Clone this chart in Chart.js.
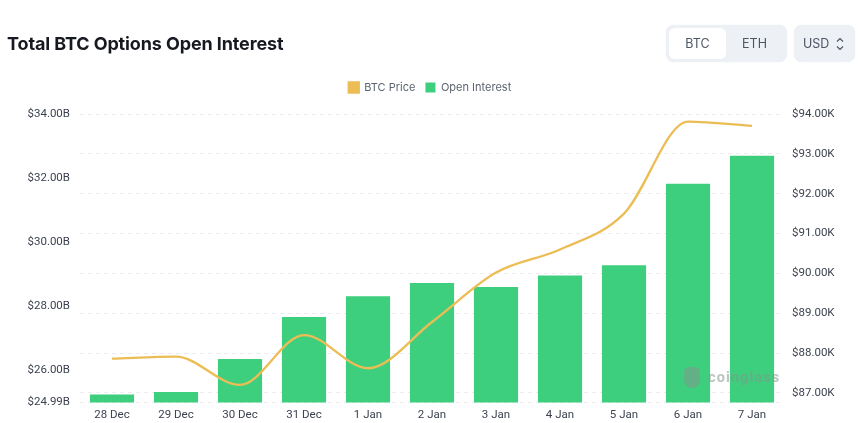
<!DOCTYPE html>
<html><head><meta charset="utf-8">
<script src="https://cdn.jsdelivr.net/npm/chart.js@4"></script>
<style>
html,body{margin:0;padding:0;background:#fff;width:860px;height:423px;overflow:hidden;font-family:Inter,Roboto,sans-serif}
#wrap{position:relative;width:860px;height:423px}
canvas{position:absolute;left:0;top:0}
#title{position:absolute;left:7px;top:32px;font:700 18px/24px Inter,Roboto,sans-serif;color:#16191f;letter-spacing:-0.12px}
#seg{position:absolute;left:666px;top:25px;width:121px;height:37px;background:#edf0f4;border-radius:8px;box-shadow:0 0 1px rgba(0,0,0,.12)}
#seg div{position:absolute;top:3px;height:31px;width:57px;text-align:center;font:400 12.5px/31px Inter,Roboto,sans-serif;color:#4d5664;border-radius:6px}
#btc{left:3px;background:#fff}#eth{left:60px}
#usd{position:absolute;left:794px;top:25px;width:61px;height:37px;background:#edf0f4;border-radius:8px;box-shadow:0 0 1px rgba(0,0,0,.12);font:400 12.5px/37px Inter,Roboto,sans-serif;color:#4d5664;text-indent:9px}
#usd svg{position:absolute;left:41px;top:11px}
#wm{position:absolute;left:708px;top:368px;font:700 14.5px/20px Roboto,sans-serif;color:rgba(130,150,140,.55);letter-spacing:1.1px}
#wmi{position:absolute;left:684px;top:367px;width:16px;height:21px;background:rgba(130,150,140,.55);border-radius:5px 5px 8px 8px}
</style></head><body>
<div id="wrap">
<canvas id="c" width="860" height="423"></canvas>
<div id="title">Total BTC Options Open Interest</div>
<div id="seg"><div id="btc">BTC</div><div id="eth">ETH</div></div>
<div id="usd">USD<svg width="10" height="16" viewBox="0 0 10 16"><path d="M2 5.5 5 2.5 8 5.5M2 10.5 5 13.5 8 10.5" fill="none" stroke="#4d5664" stroke-width="1.2"/></svg></div>
<div id="wmi"></div><div id="wm">coinglass</div>
</div>
<script>
const categories=["28 Dec","29 Dec","30 Dec","31 Dec","1 Jan","2 Jan","3 Jan","4 Jan","5 Jan","6 Jan","7 Jan"];
const openInterest=[25.24,25.32,26.35,27.66,28.31,28.72,28.60,28.96,29.28,31.82,32.70];
const btcPrice=[87.86,87.91,87.2,88.45,87.62,88.78,90.02,90.6,91.5,93.81,93.7];
const leftTicks=[24.99,26,28,30,32,34];
const rightTicks=[86.76,87,88,89,90,91,92,93,94];
const tickColor="#3c4350";
const legendSpace={id:"legendSpace",beforeInit(chart){const f=chart.legend.fit;chart.legend.fit=function(){f.call(this);this.height+=11;};}};
new Chart(document.getElementById("c"),{
 plugins:[legendSpace],
 data:{labels:categories,datasets:[
  {type:"line",label:"BTC Price",data:btcPrice,yAxisID:"yR",borderColor:"#edbd55",backgroundColor:"#edbd55",borderWidth:2.3,pointRadius:0,cubicInterpolationMode:"monotone",order:0},
  {type:"bar",label:"Open Interest",data:openInterest,yAxisID:"yL",backgroundColor:"#3ecf7e",barPercentage:0.69,categoryPercentage:1,order:1}
 ]},
 options:{responsive:false,animation:false,devicePixelRatio:1,
  layout:{padding:{top:72,left:0,right:0,bottom:0}},
  plugins:{tooltip:{enabled:false},legend:{position:"top",align:"center",labels:{boxWidth:10,boxHeight:10,padding:10,color:"#5c6470",font:{family:"Inter,Roboto,sans-serif",size:11}}}},
  scales:{
   x:{grid:{display:false,drawTicks:false,tickLength:0},border:{display:false},ticks:{color:tickColor,font:{family:"Roboto,sans-serif",size:11.5},padding:6,maxRotation:0,autoSkip:false},afterFit(a){a.height=20.5}},
   yL:{position:"left",min:24.99,max:34,afterBuildTicks(a){a.ticks=leftTicks.map(v=>({value:v}))},grid:{display:false,drawTicks:false,tickLength:0},border:{display:false},
    ticks:{color:tickColor,font:{family:"Roboto,sans-serif",size:11.5},padding:10,callback:v=>"$"+Number(v).toFixed(2)+"B"},afterFit(a){a.width=80}},
   yR:{position:"right",min:86.76,max:94,afterBuildTicks(a){a.ticks=rightTicks.map(v=>({value:v}))},
    grid:{color:"#ececf0",tickLength:0,drawTicks:false},border:{display:false,dash:[4,4]},
    ticks:{color:tickColor,font:{family:"Roboto,sans-serif",size:11.5},padding:8,callback:v=>v===86.76?"":"$"+Number(v).toFixed(2)+"K"},afterFit(a){a.width=76}}
  }
 }
});
</script></body></html>
